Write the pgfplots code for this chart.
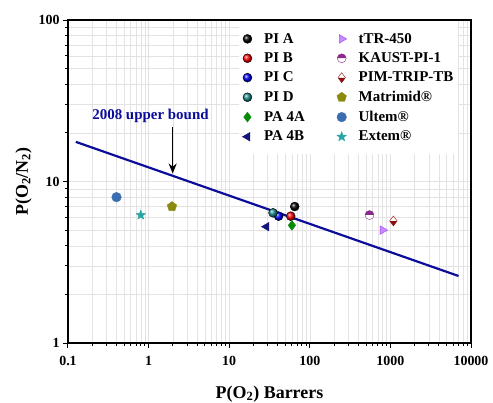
\documentclass[border=0pt]{standalone}
\usepackage{fontspec}
\setmainfont{Liberation Serif}
\usepackage{pgfplots}
\pgfplotsset{compat=1.18}
\usetikzlibrary{arrows.meta,plotmarks}
\definecolor{boundblue}{HTML}{0C0C9A}
\definecolor{pidteal}{HTML}{1A8A8A}
\definecolor{pagreen}{HTML}{0A8A0A}
\definecolor{panavy}{HTML}{14147A}
\definecolor{ttrviolet}{HTML}{A040FF}
\definecolor{kaustpurple}{HTML}{8A2A8A}
\definecolor{pimred}{HTML}{8A1010}
\definecolor{matolive}{HTML}{8A8A10}
\definecolor{ultemblue}{HTML}{3A6EB0}
\definecolor{extemteal}{HTML}{2AA4A4}
\pgfdeclareplotmark{fstar}{%
  \pgfpathmoveto{\pgfqpointpolar{90}{\pgfplotmarksize}}%
  \pgfpathlineto{\pgfqpointpolar{126}{0.42\pgfplotmarksize}}%
  \pgfpathlineto{\pgfqpointpolar{162}{\pgfplotmarksize}}%
  \pgfpathlineto{\pgfqpointpolar{198}{0.42\pgfplotmarksize}}%
  \pgfpathlineto{\pgfqpointpolar{234}{\pgfplotmarksize}}%
  \pgfpathlineto{\pgfqpointpolar{270}{0.42\pgfplotmarksize}}%
  \pgfpathlineto{\pgfqpointpolar{306}{\pgfplotmarksize}}%
  \pgfpathlineto{\pgfqpointpolar{342}{0.42\pgfplotmarksize}}%
  \pgfpathlineto{\pgfqpointpolar{18}{\pgfplotmarksize}}%
  \pgfpathlineto{\pgfqpointpolar{54}{0.42\pgfplotmarksize}}%
  \pgfpathclose\pgfusepathqfillstroke}
\begin{document}
\begin{tikzpicture}
\begin{axis}[name=ax, scale only axis, width=403bp, height=323bp,
  xmode=log, ymode=log, xmin=0.1, xmax=10000, ymin=1, ymax=100,
  log ticks with fixed point,
  /pgf/number format/1000 sep={},
  /pgf/number format/assume math mode=true,
  tick align=outside, xtick pos=bottom, ytick pos=left,
  major tick length=5bp, minor tick length=3bp,
  tick style={black, line width=1pt},
  axis line style={line width=1.4pt},
  grid=both,
  major grid style={gray!22, line width=0.5pt},
  minor grid style={gray!22, line width=0.5pt},
  ticklabel style={font=\bfseries\fontsize{14}{16}\selectfont},
  xticklabel style={yshift=-5bp},
  xlabel={P(O\textsubscript{2}) Barrers},
  ylabel={P(O\textsubscript{2}/N\textsubscript{2})},
  label style={font=\bfseries\fontsize{18}{20}\selectfont},
  xlabel style={yshift=-13bp},
  legend columns=6, transpose legend,
  legend cell align=left,
  legend style={at={(0.425,0.997)}, anchor=north west, draw=none, fill=white,
    inner ysep=10bp,
    font=\bfseries\fontsize{15}{17}\selectfont, row sep=4bp,
    /tikz/every odd column/.append style={column sep=10bp},
    /tikz/every even column/.append style={column sep=30bp}},
]
\addplot[boundblue, line width=2.2pt, forget plot] coordinates {(0.125,17.6) (7000,2.6)};
\addplot[only marks, mark=ball, mark size=4.5, mark options={ball color=black}] coordinates {(65,7.0)};
\addlegendentry{PI A}
\addplot[only marks, mark=ball, mark size=4.5, mark options={ball color=red}] coordinates {(58,6.1)};
\addlegendentry{PI B}
\addplot[only marks, mark=ball, mark size=4.5, mark options={ball color=blue}] coordinates {(41,6.1)};
\addlegendentry{PI C}
\addplot[only marks, mark=ball, mark size=4.5, mark options={ball color=pidteal}] coordinates {(35,6.4)};
\addlegendentry{PI D}
\addplot[only marks, mark=diamond*, mark size=5, color=pagreen] coordinates {(60,5.35)};
\addlegendentry{PA 4A}
\addplot[only marks, mark=triangle*, mark size=5, color=panavy, mark options={rotate=90}] coordinates {(29,5.25)};
\addlegendentry{PA 4B}
\addplot[only marks, mark=triangle*, mark size=5, color=ttrviolet, mark options={rotate=-90, fill=ttrviolet!60}] coordinates {(800,5.0)};
\addlegendentry{tTR-450}
\addplot[only marks, mark=halfcircle*, mark size=4.5, color=kaustpurple, mark options={fill=kaustpurple}] coordinates {(550,6.2)};
\addlegendentry{KAUST-PI-1}
\addplot[only marks, mark=halfdiamond*, mark size=5, color=pimred, mark options={fill=pimred}] coordinates {(1090,5.7)};
\addlegendentry{PIM-TRIP-TB}
\addplot[only marks, mark=pentagon*, mark size=5, color=matolive] coordinates {(1.95,7.0)};
\addlegendentry{Matrimid®}
\addplot[only marks, mark=*, mark size=4.8, color=ultemblue] coordinates {(0.4,8.0)};
\addlegendentry{Ultem®}
\addplot[only marks, mark=fstar, mark size=5, color=extemteal] coordinates {(0.8,6.2)};
\addlegendentry{Extem®}
\draw[black, line width=1.6pt, -{Stealth[length=10bp,width=8bp]}] (axis cs:1.99,21.8) -- (axis cs:1.99,11.2);
\node[text=boundblue, font=\bfseries\fontsize{15}{17}\selectfont] at (axis cs:1.056,25.4) {2008 upper bound};
\end{axis}
\pgfresetboundingbox
\path[use as bounding box] ([shift={(-68bp,-60bp)}]ax.south west) rectangle ([shift={(22bp,20bp)}]ax.north east);
\end{tikzpicture}
\end{document}
